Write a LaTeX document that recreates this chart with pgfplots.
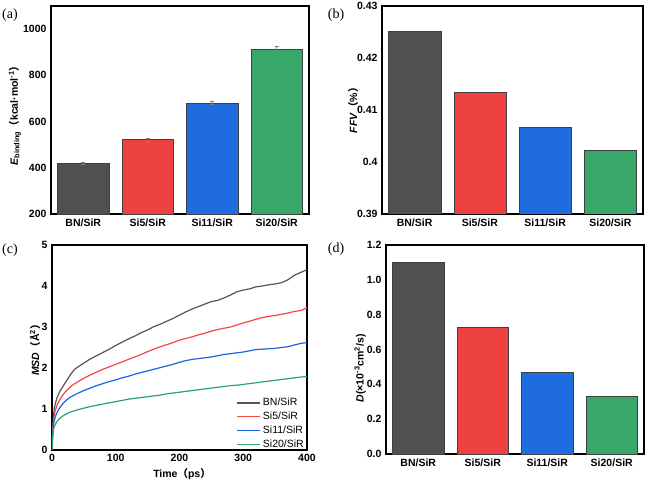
\documentclass[border=0pt]{standalone}
\usepackage{fontspec}
\setmainfont{Liberation Sans}
\newfontfamily\serif{Liberation Serif}
\newfontfamily\cjk{Noto Sans CJK SC}
\usepackage{pgfplots}
\pgfplotsset{compat=1.18}

\definecolor{cgray}{RGB}{80,80,80}
\definecolor{cred}{RGB}{238,66,66}
\definecolor{cblue}{RGB}{30,108,222}
\definecolor{cgreen}{RGB}{56,168,106}
\definecolor{lgray}{RGB}{85,85,85}
\definecolor{lred}{RGB}{245,70,70}
\definecolor{lblue}{RGB}{30,100,225}
\definecolor{lgreen}{RGB}{40,165,105}

\pgfplotsset{
  panel/.style={
    scale only axis,
    axis line style={line width=1.2pt},
    major tick length=0pt,
    tick label style={font=\bfseries\fontsize{10.5}{12}\selectfont},
    label style={font=\bfseries\fontsize{10.5}{12}\selectfont},
    /pgf/number format/assume math mode=true,
    /pgf/number format/1000 sep={},
    yticklabel style={xshift=-1pt},
    xticklabel style={yshift=-1pt},
  },
  barpanel/.style={
    panel,
    xmin=-0.5, xmax=3.5,
    xtick={0,1,2,3},
    xticklabels={BN/SiR,Si5/SiR,Si11/SiR,Si20/SiR},
  },
  onebar/.style={ybar, bar width=0.8, draw=black!75, line width=0.4pt, fill=#1},
  ebar/.style={error bars/.cd, y dir=both, y explicit,
    error bar style={gray, line width=0.5pt},
    error mark options={gray, mark size=2pt, rotate=90}},
}

\begin{document}
\begin{tikzpicture}
\path[use as bounding box] (0,0) rectangle (649pt,-482pt);

% (a)
\begin{axis}[barpanel,
  at={(51pt,-6pt)}, anchor=north west,
  width=258pt, height=208pt,
  ymin=200, ymax=1100, ytick={200,400,600,800,1000},
  ylabel={\textit{E}\textsubscript{binding}{\cjk （}kcal·mol\textsuperscript{-1}{\cjk ）}},
  ylabel style={at={(axis description cs:-0.14,0.485)}, anchor=center},
]
\addplot[onebar=cgray, ebar] coordinates {(0,420) +- (0,5)};
\addplot[onebar=cred, ebar] coordinates {(1,522) +- (0,5)};
\addplot[onebar=cblue, ebar] coordinates {(2,680) +- (0,7)};
\addplot[onebar=cgreen, ebar] coordinates {(3,915) +- (0,10)};
\end{axis}

% (b)
\begin{axis}[barpanel,
  at={(382pt,-6pt)}, anchor=north west,
  width=261pt, height=208pt,
  ymin=0.39, ymax=0.43, ytick={0.39,0.4,0.41,0.42,0.43},
  ylabel={\textit{FFV}{\cjk （}\%{\cjk ）}},
  ylabel style={at={(axis description cs:-0.111,0.51)}, anchor=center},
]
\addplot[onebar=cgray] coordinates {(0,0.4252)};
\addplot[onebar=cred] coordinates {(1,0.4135)};
\addplot[onebar=cblue] coordinates {(2,0.4066)};
\addplot[onebar=cgreen] coordinates {(3,0.4022)};
\end{axis}

% (c)
\begin{axis}[panel,
  at={(52pt,-245pt)}, anchor=north west,
  width=255pt, height=205pt,
  xmin=0, xmax=400, ymin=0, ymax=5,
  xtick={0,100,200,300,400}, ytick={0,1,2,3,4,5},
  xlabel={Time{\cjk （}ps{\cjk ）}},
  ylabel={\textit{MSD}{\cjk （}Å\textsuperscript{2}{\cjk ）}},
  xlabel style={at={(axis description cs:0.51,-0.117)}, anchor=center},
  ylabel style={at={(axis description cs:-0.067,0.5)}, anchor=center},
  legend style={at={(axis description cs:1,-0.01)}, anchor=south east, draw=none, fill=none,
    font=\fontsize{10.5}{11}\selectfont, row sep=0.7pt, inner sep=1pt},
  legend cell align=left,
  legend image code/.code={\draw[#1, line width=1.5pt] (0pt,0pt) -- (23pt,0pt);},
]
\addplot[lgray, line width=1.2pt] coordinates {
(0,0) (1,0.45) (2,0.75) (3,0.95) (5,1.12) (8,1.28) (12,1.42) (16,1.52) (20,1.62)
(25,1.74) (30,1.86) (35,1.96) (40,2.02) (50,2.12) (60,2.22) (70,2.30) (80,2.38)
(90,2.46) (100,2.55) (110,2.63) (120,2.71) (130,2.78) (140,2.86) (150,2.93)
(160,3.01) (170,3.07) (180,3.14) (190,3.21) (200,3.29) (210,3.37) (220,3.44)
(230,3.50) (240,3.56) (250,3.62) (260,3.65) (270,3.71) (280,3.78) (290,3.86)
(300,3.90) (310,3.93) (320,3.98) (330,4.00) (340,4.03) (350,4.05) (360,4.08)
(370,4.15) (380,4.26) (390,4.33) (400,4.40)};
\addlegendentry{BN/SiR}
\addplot[lred, line width=1.2pt] coordinates {
(0,0) (1,0.4) (2,0.65) (3,0.8) (5,0.95) (8,1.1) (12,1.22) (16,1.32) (20,1.40)
(25,1.48) (30,1.56) (40,1.66) (50,1.75) (60,1.83) (70,1.90) (80,1.97) (90,2.03)
(100,2.09) (110,2.15) (120,2.21) (130,2.27) (140,2.33) (150,2.40) (160,2.46)
(170,2.52) (180,2.57) (190,2.62) (200,2.68) (210,2.72) (220,2.76) (230,2.81)
(240,2.85) (250,2.90) (260,2.94) (270,2.97) (280,3.00) (290,3.05) (300,3.10)
(310,3.14) (320,3.19) (330,3.23) (340,3.26) (350,3.28) (360,3.31) (370,3.34)
(380,3.38) (390,3.40) (400,3.47)};
\addlegendentry{Si5/SiR}
\addplot[lblue, line width=1.2pt] coordinates {
(0,0) (1,0.35) (2,0.55) (3,0.68) (5,0.80) (8,0.92) (12,1.03) (16,1.11) (20,1.18)
(25,1.25) (30,1.30) (40,1.38) (50,1.45) (60,1.51) (70,1.57) (80,1.62) (90,1.67)
(100,1.71) (110,1.76) (120,1.80) (130,1.85) (140,1.89) (150,1.93) (160,1.97)
(170,2.01) (180,2.05) (190,2.09) (200,2.14) (210,2.18) (220,2.21) (230,2.23)
(240,2.25) (250,2.27) (260,2.30) (270,2.33) (280,2.35) (290,2.37) (300,2.39)
(310,2.42) (320,2.45) (330,2.46) (340,2.47) (350,2.48) (360,2.50) (370,2.52)
(380,2.56) (390,2.60) (400,2.62)};
\addlegendentry{Si11/SiR}
\addplot[lgreen, line width=1.2pt] coordinates {
(0,0) (1,0.3) (2,0.45) (3,0.55) (5,0.62) (8,0.70) (12,0.77) (16,0.82) (20,0.86)
(25,0.90) (30,0.93) (40,0.98) (50,1.02) (60,1.06) (70,1.09) (80,1.12) (90,1.15)
(100,1.18) (110,1.21) (120,1.24) (130,1.26) (140,1.28) (150,1.30) (160,1.32)
(170,1.34) (180,1.37) (190,1.39) (200,1.41) (210,1.43) (220,1.45) (230,1.47)
(240,1.49) (250,1.51) (260,1.53) (270,1.55) (280,1.57) (290,1.58) (300,1.60)
(310,1.62) (320,1.64) (330,1.66) (340,1.68) (350,1.70) (360,1.72) (370,1.74)
(380,1.76) (390,1.78) (400,1.79)};
\addlegendentry{Si20/SiR}
\end{axis}

% (d)
\begin{axis}[barpanel,
  at={(386pt,-245pt)}, anchor=north west,
  width=258pt, height=209pt,
  ymin=0, ymax=1.2, ytick={0,0.2,0.4,0.6,0.8,1.0,1.2},
  yticklabel style={/pgf/number format/.cd, fixed, fixed zerofill, precision=1},
  ylabel={\textit{D}(×10\textsuperscript{-3}cm\textsuperscript{2}/s)},
  ylabel style={at={(axis description cs:-0.10,0.41)}, anchor=center},
]
\addplot[onebar=cgray] coordinates {(0,1.10)};
\addplot[onebar=cred] coordinates {(1,0.73)};
\addplot[onebar=cblue] coordinates {(2,0.47)};
\addplot[onebar=cgreen] coordinates {(3,0.33)};
\end{axis}

% panel letters
\node[font=\serif\fontsize{14}{16}\selectfont] at (10pt,-15pt) {(a)};
\node[font=\serif\fontsize{14}{16}\selectfont] at (336pt,-15pt) {(b)};
\node[font=\serif\fontsize{14}{16}\selectfont] at (10pt,-250pt) {(c)};
\node[font=\serif\fontsize{14}{16}\selectfont] at (336pt,-249pt) {(d)};
\end{tikzpicture}
\end{document}
